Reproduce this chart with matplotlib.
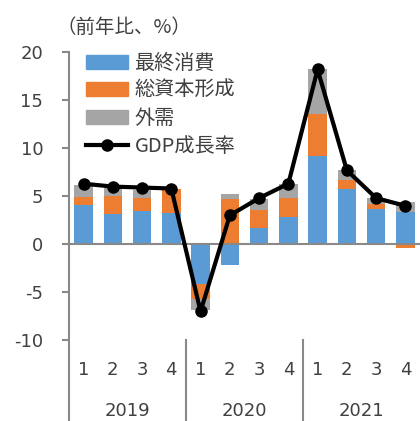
import numpy as np
import matplotlib
matplotlib.use('Agg')
from matplotlib import pyplot as plt
from matplotlib.lines import Line2D
from matplotlib.patches import Patch

plt.rcParams['font.family'] = ['Noto Sans CJK JP', 'DejaVu Sans']

quarters = ['1', '2', '3', '4'] * 3
years = ['2019', '2020', '2021']
consumption = [4.1, 3.1, 3.5, 3.3, -4.1, -2.2, 1.7, 2.8, 9.2, 5.8, 3.7, 3.4]
investment = [0.8, 1.9, 1.3, 2.5, -1.6, 4.7, 1.9, 2.0, 4.4, 0.9, 0.5, -0.4]
external = [1.3, 0.9, 0.8, 0.0, -1.2, 0.5, 1.1, 1.5, 4.6, 1.0, 0.6, 1.0]
gdp = [6.3, 6.0, 5.9, 5.8, -7.0, 3.0, 4.8, 6.3, 18.2, 7.7, 4.8, 4.0]

series = [('最終消費', consumption, '#5B9BD5'),
          ('総資本形成', investment, '#ED7D31'),
          ('外需', external, '#A5A5A5')]

num_font = dict(family='DejaVu Sans', size=13, color='#404040')

fig = plt.figure(figsize=(4.2, 4.21), dpi=100)
ax = fig.add_axes([0.164, 0.192, 0.836, 0.684])

x = np.arange(len(gdp))
pos_base = np.zeros(len(x))
neg_base = np.zeros(len(x))
for name, vals, color in series:
    vals = np.array(vals)
    bottom = np.where(vals >= 0, pos_base, neg_base)
    ax.bar(x, vals, bottom=bottom, width=0.63, color=color, zorder=2)
    pos_base += np.where(vals >= 0, vals, 0)
    neg_base += np.where(vals < 0, vals, 0)

ax.plot(x, gdp, color='black', lw=3, marker='o', ms=8, zorder=4)

axis_gray = '#898989'
ax.axhline(0, color=axis_gray, lw=1.5, zorder=3)
ax.set_xlim(-0.5, 11.5)
ax.set_ylim(-10, 20)
ax.set_yticks([-10, -5, 0, 5, 10, 15, 20])
ax.set_yticklabels(['-10', '-5', '0', '5', '10', '15', '20'], **num_font)
ax.tick_params(axis='y', length=5, width=1.5, color=axis_gray, pad=13.5)
ax.set_xticks([])
for s in ['top', 'right', 'bottom', 'left']:
    ax.spines[s].set_visible(False)

# category axis drawn below the plot
low = -0.29
ax.plot([-0.5, -0.5], [low, 1], transform=ax.get_xaxis_transform(),
        color=axis_gray, lw=1.5, clip_on=False)
for xb in [3.5, 7.5]:
    ax.plot([xb, xb], [low, 0], transform=ax.get_xaxis_transform(),
            color=axis_gray, lw=1.5, clip_on=False)
for i, q in enumerate(quarters):
    ax.text(i, -0.104, q, transform=ax.get_xaxis_transform(),
            ha='center', va='center', **num_font)
for j, yr in enumerate(years):
    ax.text(4 * j + 1.5, -0.247, yr, transform=ax.get_xaxis_transform(),
            ha='center', va='center', **num_font)

fig.text(0.135, 0.935, '（前年比、%）', ha='left', va='center',
         fontsize=14, color='#404040')

handles = [Patch(color=c) for _, _, c in series]
handles.append(Line2D([], [], color='black', lw=3, marker='o', ms=8))
labels = [n for n, _, _ in series] + ['GDP成長率']
leg = ax.legend(handles, labels, loc='upper left', bbox_to_anchor=(0.205, 0.875),
                bbox_transform=fig.transFigure, frameon=False, fontsize=14.5,
                handlelength=2.1, handleheight=0.7, handletextpad=0.3,
                labelspacing=0.33, borderpad=0, borderaxespad=0)
for t in leg.get_texts():
    t.set_color('#404040')

fig.savefig('out.png', dpi=100)
